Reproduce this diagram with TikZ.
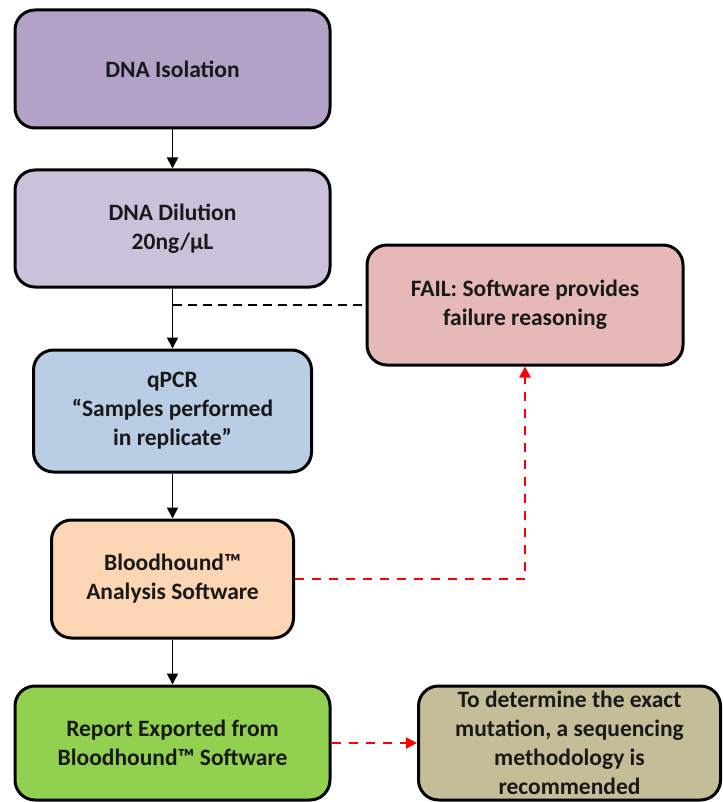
\documentclass[tikz,border=0pt]{standalone}
\usepackage{fontspec}
\setmainfont{Carlito}
\usetikzlibrary{arrows.meta}
\definecolor{cIso}{HTML}{B3A2C7}
\definecolor{cDil}{HTML}{CCC1DA}
\definecolor{cQ}{HTML}{B9CDE5}
\definecolor{cFail}{HTML}{E6B9B8}
\definecolor{cBlood}{HTML}{FCD5B5}
\definecolor{cRep}{HTML}{92D050}
\definecolor{cTan}{HTML}{C4BD97}
\definecolor{cRed}{HTML}{FF0000}
\tikzset{
  box/.style={draw=black, line width=3pt, rounded corners=20pt, rectangle, align=center,
    font=\fontsize{23.5}{29}\selectfont\bfseries, text=black!90, inner sep=0pt},
  flow/.style={draw=black, line width=1.8pt, -{Triangle[length=11pt,width=11pt]}},
  blackdash/.style={draw=black, line width=1.8pt, dash pattern=on 9pt off 6pt},
  reddash/.style={draw=cRed, line width=2.5pt, dash pattern=on 9pt off 8pt, -{Triangle[length=11pt,width=11pt]}}
}
\begin{document}
\begin{tikzpicture}[x=1pt,y=-1pt]
\useasboundingbox (0,0) rectangle (722,802);
\node[box, fill=cIso, minimum width=315pt, minimum height=118pt] (iso) at (172.5,69) {DNA Isolation};
\node[box, fill=cDil, minimum width=315pt, minimum height=117pt] (dil) at (172.5,228.5) {DNA Dilution\\20ng/µL};
\node[box, fill=cQ, minimum width=278pt, minimum height=122pt] (qpcr) at (172.5,411) {qPCR\\“Samples performed\\in replicate”};
\node[box, fill=cFail, minimum width=316pt, minimum height=120pt] (fail) at (525,305) {FAIL: Software provides\\failure reasoning};
\node[box, fill=cBlood, minimum width=242pt, minimum height=118pt] (blood) at (172.5,579) {Bloodhound™\\Analysis Software};
\node[box, fill=cRep, minimum width=315pt, minimum height=114pt] (rep) at (172.5,743) {Report Exported from\\Bloodhound™ Software};
\node[box, fill=cTan, minimum width=302pt, minimum height=114pt] (tan) at (569.5,743) {To determine the exact\\mutation, a sequencing\\methodology is\\recommended};
\coordinate (j) at (dil.south |- fail.west);
\draw[flow] (iso.south) -- (dil.north);
\draw[flow] (dil.south) -- (qpcr.north);
\draw[blackdash] (j) -- (fail.west);
\draw[flow] (qpcr.south) -- (blood.north);
\draw[flow] (blood.south) -- (rep.north);
\draw[reddash] (blood.east) -- (fail.south |- blood.east) -- (fail.south);
\draw[reddash] (rep.east) -- (tan.west);
\end{tikzpicture}
\end{document}
